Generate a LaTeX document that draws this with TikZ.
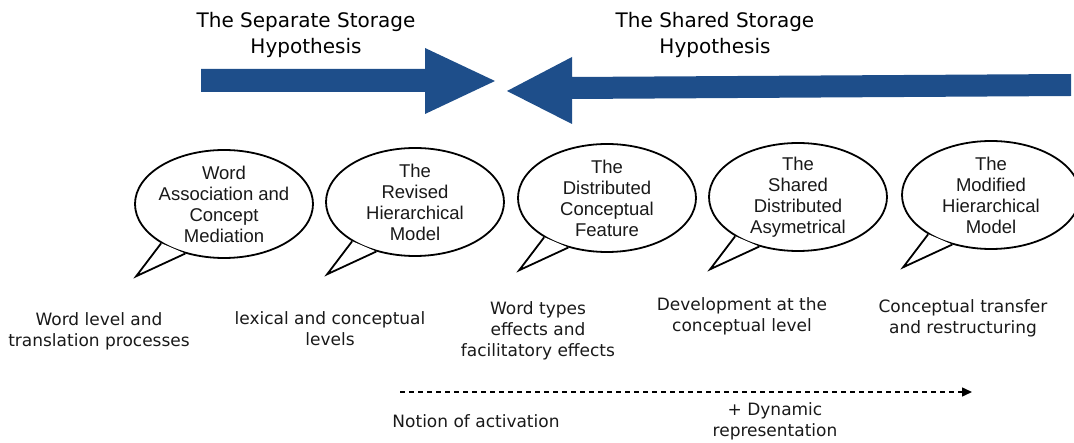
\documentclass[tikz,border=0pt]{standalone}
\usepackage{fontspec}
\setmainfont{DejaVu Sans}
\newfontfamily\bubblefont{Liberation Sans}
\usetikzlibrary{shapes,arrows.meta}
\definecolor{arrowblue}{RGB}{30,78,138}

\begin{document}
\begin{tikzpicture}[x=1pt,y=-1pt,bubble/.style={draw, line width=1.8pt, fill=white, shape=ellipse, minimum width=178pt, minimum height=108pt, inner sep=-6pt, align=center, font=\bubblefont\fontsize{18.5}{21}\selectfont, text=black!90},tail/.style={draw, line width=1.8pt, fill=white, line join=miter},note/.style={align=center, font=\fontsize{17}{21}\selectfont, text=black!90},title/.style={align=center, font=\fontsize{20}{26}\selectfont},timeline/.style={line width=1.5pt, dash pattern=on 5pt off 4pt, -{Triangle[length=10pt,width=9pt]}}]
\useasboundingbox (0,0) rectangle (1074,443);
\node[title] (sep) at (306,35) {The Separate Storage\\Hypothesis};
\node[title] (shr) at (715,35) {The Shared Storage\\Hypothesis};
\fill[arrowblue] (201,69) -- (425,69) -- (425,48) -- (495,81) -- (425,114) -- (425,92) -- (201,92) -- cycle;
\fill[arrowblue] (1071,74) -- (572,77) -- (572,57) -- (507,91) -- (572,124) -- (572,99) -- (1071,96) -- cycle;
\node[bubble] (wacm) at (224,204) {Word\\Association and\\Concept\\Mediation};
\filldraw[tail] (wacm.212) -- ++(-25,33) -- (wacm.232);
\node[bubble] (rhm) at (415,202) {The\\Revised\\Hierarchical\\Model};
\filldraw[tail] (rhm.212) -- ++(-25,33) -- (rhm.232);
\node[bubble] (dcf) at (607,198) {The\\Distributed\\Conceptual\\Feature};
\filldraw[tail] (dcf.212) -- ++(-25,33) -- (dcf.232);
\node[bubble] (sda) at (798,197) {The\\Shared\\Distributed\\Asymetrical};
\filldraw[tail] (sda.212) -- ++(-25,33) -- (sda.232);
\node[bubble] (mhm) at (991,195) {The\\Modified\\Hierarchical\\Model};
\filldraw[tail] (mhm.212) -- ++(-25,33) -- (mhm.232);
\node[note] (wl) at (99,331) {Word level and\\translation processes};
\node[note] (lc) at (330,329) {lexical and conceptual\\levels};
\node[note] (wt) at (538,331) {Word types\\effects and\\facilitatory effects};
\node[note] (dev) at (742,316) {Development at the\\conceptual level};
\node[note] (ctr) at (963,318) {Conceptual transfer\\and restructuring};
\coordinate (tstart) at (400,392);
\coordinate (tend) at (972,392);
\draw[timeline] (tstart) -- (tend);
\node[note] (act) at (476,421) {Notion of activation};
\node[note] (dyn) at (775,421) {+ Dynamic\\representation};
\end{tikzpicture}
\end{document}
